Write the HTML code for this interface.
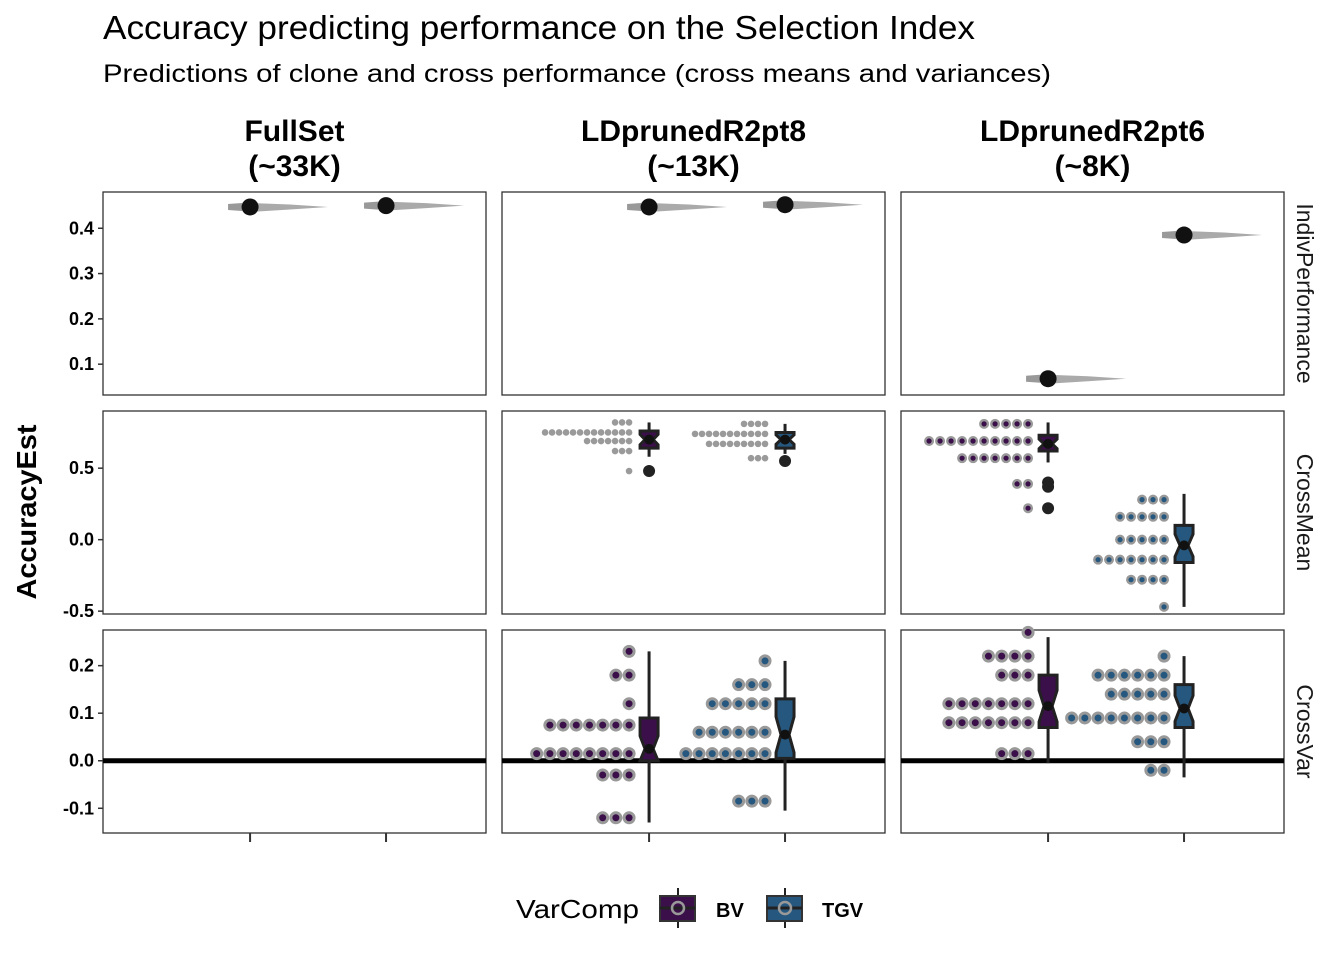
<!DOCTYPE html>
<html><head><meta charset="utf-8"><style>
body{margin:0;background:#fff;}
svg{display:block;font-family:"Liberation Sans",Arial,sans-serif;}
</style></head><body>
<svg id="chart" width="1344" height="960" xmlns="http://www.w3.org/2000/svg">
<text x="103" y="39" font-size="33" textLength="872" lengthAdjust="spacingAndGlyphs" fill="#000">Accuracy predicting performance on the Selection Index</text>
<text x="103" y="82" font-size="25" textLength="948" lengthAdjust="spacingAndGlyphs" fill="#000">Predictions of clone and cross performance (cross means and variances)</text>
<text transform="translate(36,512) rotate(-90)" text-anchor="middle" font-size="28" font-weight="bold" textLength="175" lengthAdjust="spacingAndGlyphs">AccuracyEst</text>
<g id="legend">
<text x="516" y="918" font-size="26" textLength="123" lengthAdjust="spacingAndGlyphs">VarComp</text>
<g>
<line x1="678" y1="888" x2="678" y2="928" stroke="#222" stroke-width="2"/>
<rect x="660" y="896" width="35" height="25" fill="#3b0f4a" stroke="#333" stroke-width="2"/>
<line x1="660" y1="908" x2="695" y2="908" stroke="#222" stroke-width="3"/>
<circle cx="678" cy="908" r="6" fill="none" stroke="#999" stroke-width="2.5"/>
<text x="716" y="917" font-size="20" font-weight="bold">BV</text></g>
<g>
<line x1="785" y1="888" x2="785" y2="928" stroke="#222" stroke-width="2"/>
<rect x="767" y="896" width="35" height="25" fill="#26587f" stroke="#333" stroke-width="2"/>
<line x1="767" y1="908" x2="802" y2="908" stroke="#222" stroke-width="3"/>
<circle cx="785" cy="908" r="6" fill="none" stroke="#999" stroke-width="2.5"/>
<text x="822" y="917" font-size="20" font-weight="bold">TGV</text></g>
</g>
</svg>
<script>
const NS='http://www.w3.org/2000/svg';
const svg=document.getElementById('chart');
const columns=['FullSet\n (~33K)','LDprunedR2pt8\n(~13K)','LDprunedR2pt6\n(~8K)'];
const rows=['IndivPerformance','CrossMean','CrossVar'];
const categories=['BV','TGV'];
const rowTicks=[[0.1,0.2,0.3,0.4],[-0.5,0.0,0.5],[-0.1,0.0,0.1,0.2]];
const rowTickLabels=[['0.1','0.2','0.3','0.4'],['-0.5','0.0','0.5'],['-0.1','0.0','0.1','0.2']];
const rowDomains=[[0.032,0.48],[-0.52,0.9],[-0.152,0.275]];
// IndivPerformance point values [col][cat]
const indivValues=[[0.447,0.450],[0.447,0.452],[0.068,0.385]];
// CrossMean dot bins: values & counts per [col][cat]
const meanBinVals=[[[],[]],[[0.82,0.75,0.69,0.62,0.48],[0.81,0.74,0.67,0.57]],[[0.81,0.69,0.57,0.39,0.22],[0.28,0.16,0.0,-0.14,-0.28,-0.47]]];
const meanBinCounts=[[[],[]],[[3,13,7,3,1],[4,11,9,3]],[[5,10,7,2,1],[3,5,5,7,4,1]]];
const meanBox=[[null,null],[[0.64,0.70,0.76,0.58,0.82],[0.64,0.70,0.75,0.60,0.81]],[[0.62,0.67,0.73,0.54,0.82],[-0.16,-0.04,0.10,-0.47,0.32]]];
const meanOutliers=[[[],[]],[[0.48],[0.55]],[[0.40,0.37,0.22],[]]];
const varBinVals=[[[],[]],[[0.23,0.18,0.12,0.075,0.015,-0.03,-0.12],[0.21,0.16,0.12,0.06,0.015,-0.085]],[[0.27,0.22,0.18,0.12,0.08,0.015],[0.22,0.18,0.14,0.09,0.04,-0.02]]];
const varBinCounts=[[[],[]],[[1,2,1,7,8,3,3],[1,3,5,6,7,3]],[[1,4,3,7,7,3],[1,6,5,8,3,2]]];
const varBox=[[null,null],[[0.0,0.025,0.09,-0.13,0.23],[0.005,0.055,0.13,-0.105,0.21]],[[0.07,0.115,0.18,-0.005,0.26],[0.07,0.11,0.16,-0.035,0.22]]];
const colors=['#3b0f4a','#26587f'];

const colX=[103,502,901], PW=383;
const rowY=[192,411,630], PH=203;
function el(tag,attrs,parent){const e=document.createElementNS(NS,tag);for(const k in attrs)e.setAttribute(k,attrs[k]);(parent||svg).appendChild(e);return e;}
function xScale(c,i){return colX[c]+PW*(0.384+i*0.355);}
function yScale(r,v){const d=rowDomains[r];return rowY[r]+PH-(v-d[0])/(d[1]-d[0])*PH;}

// strips
columns.forEach((t,c)=>{
  const lines=t.split('\n');
  lines.forEach((ln,k)=>{
    const tx=el('text',{x:colX[c]+PW/2,y:141+k*35,'text-anchor':'middle','font-size':'30','font-weight':'bold','xml:space':'preserve'});
    
    
    tx.textContent=ln;
  });
});
rows.forEach((t,r)=>{
  const tx=el('text',{transform:`translate(1297,${rowY[r]+PH/2}) rotate(90)`,'text-anchor':'middle','font-size':'23',fill:'#1a1a1a'});
  
  
  tx.textContent=t;
});
// y ticks
rows.forEach((_,r)=>{
  rowTicks[r].forEach((v,k)=>{
    const y=yScale(r,v);
    const tl=el('line',{x1:98,x2:103,y1:y,y2:y,stroke:'#333','stroke-width':1.5});
    
    
    const tx=el('text',{x:94,y:y+6,'text-anchor':'end','font-size':'18','font-weight':'bold'});
    
    
    tx.textContent=rowTickLabels[r][k];
  });
});
// x ticks
columns.forEach((_,c)=>categories.forEach((_,i)=>{
  const x=xScale(c,i);
  const tl=el('line',{x1:x,x2:x,y1:832,y2:842,stroke:'#333','stroke-width':2});
  
  
}));

function drawBox(r,c,i,b,col,bw){
  const x=xScale(c,i), g=el('g',{});
  
  
  const [q1,md,q3,lo,hi]=b;
  el('line',{x1:x,x2:x,y1:yScale(r,hi),y2:yScale(r,lo),stroke:'#222','stroke-width':3},g);
  const y1=yScale(r,q3),y3=yScale(r,q1),ym=yScale(r,md);
  const nt=Math.max(y1,ym-Math.abs(y3-y1)*0.3), nb=Math.min(y3,ym+Math.abs(y3-y1)*0.3);
  const h=bw/2,hn=h*0.45;
  el('path',{d:`M${x-h},${y1}L${x+h},${y1}L${x+h},${nt}L${x+hn},${ym}L${x+h},${nb}L${x+h},${y3}L${x-h},${y3}L${x-h},${nb}L${x-hn},${ym}L${x-h},${nt}Z`,fill:col,stroke:'#222','stroke-width':3},g);
  el('line',{x1:x-hn,x2:x+hn,y1:ym,y2:ym,stroke:'#222','stroke-width':4},g);
  el('circle',{cx:x,cy:ym,r:5,fill:'#111'},g);
}
function drawDots(r,c,i,vals,counts,rad,sp,fill,ring,sw){
  const x0=xScale(c,i)-20;
  vals.forEach((v,k)=>{
    for(let j=0;j<counts[k];j++){
      const d=el('circle',{cx:x0-j*sp,cy:yScale(r,v),r:rad,fill:fill,stroke:ring||'none','stroke-width':sw||0});
      
      
    }
  });
}

// panels background
rows.forEach((_,r)=>columns.forEach((_,c)=>{
  const p=el('rect',{x:colX[c],y:rowY[r],width:PW,height:PH,fill:'#fff',stroke:'#333','stroke-width':1.3});
  
  
}));

// Row 1 indiv
columns.forEach((_,c)=>categories.forEach((_,i)=>{
  const x=xScale(c,i), y=yScale(0,indivValues[c][i]);
  const v=el('path',{d:`M${x},${y-4}L${x+40},${y-2.5}L${x+78},${y}L${x+40},${y+2.5}L${x},${y+5}Z`,fill:'#aaa'});
  
  
  const dt=el('path',{d:`M${x-22},${y-3}L${x-8},${y-4}L${x-8},${y+4}L${x-22},${y+3}Z`,fill:'#999'});
  
  
  const p=el('circle',{cx:x,cy:y,r:8.5,fill:'#111'});
  
  
}));

// Row 2 mean
columns.forEach((_,c)=>categories.forEach((_,i)=>{
  if(!meanBox[c][i])return;
  if(c===1) drawDots(1,c,i,meanBinVals[c][i],meanBinCounts[c][i],3.3,7,'#9a9a9a',null,0);
  else drawDots(1,c,i,meanBinVals[c][i],meanBinCounts[c][i],3.8,11,colors[i],'#999',2.4);
  meanOutliers[c][i].forEach(v=>{
    const o=el('circle',{cx:xScale(c,i),cy:yScale(1,v),r:6,fill:'#222'});
    
    
  });
  drawBox(1,c,i,meanBox[c][i],colors[i],18);
}));

// Row 3 var
columns.forEach((_,c)=>{
  const z=yScale(2,0);
  const zl=el('line',{x1:colX[c],x2:colX[c]+PW,y1:z,y2:z,stroke:'#000','stroke-width':5});
  
  
});
columns.forEach((_,c)=>categories.forEach((_,i)=>{
  if(!varBox[c][i])return;
  drawDots(2,c,i,varBinVals[c][i],varBinCounts[c][i],5,13.2,colors[i],'#999',3);
  drawBox(2,c,i,varBox[c][i],colors[i],18);
}));
</script>
</body></html>
